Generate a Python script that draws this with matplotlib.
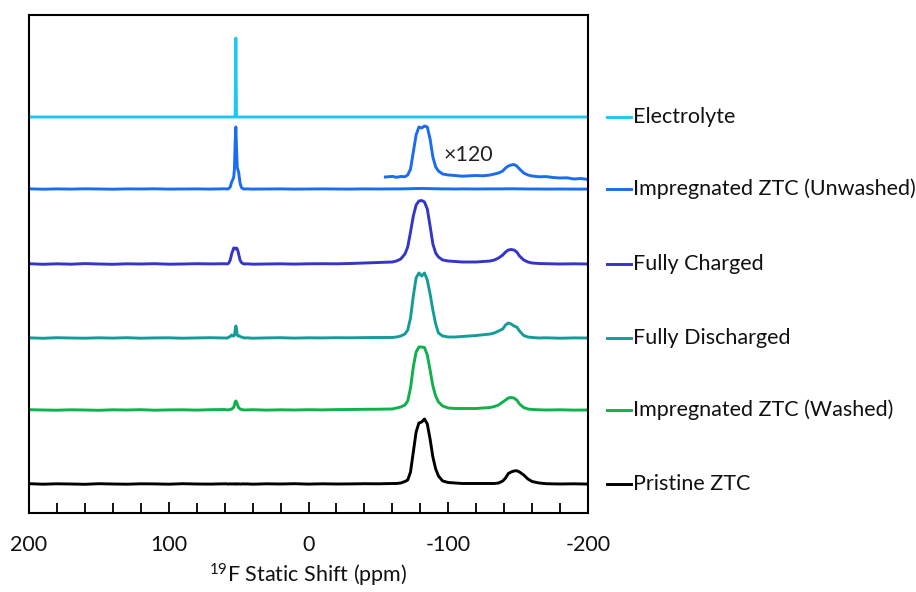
import matplotlib
matplotlib.use("Agg")
import matplotlib.pyplot as plt
import matplotlib.transforms as mtransforms
from matplotlib.ticker import MultipleLocator

plt.rcParams['font.family'] = ['Lato', 'DejaVu Sans']
plt.rcParams['mathtext.fontset'] = 'custom'
plt.rcParams['mathtext.rm'] = 'Lato'

# Chemical shift grid (ppm), dense around the resonances
ppm = [200, 190, 180, 170, 160, 150, 140, 130, 120, 110, 100, 90, 80, 70, 60,
       58, 57, 56, 55, 54, 53.5, 53, 52.5, 52, 51.5, 51, 50.5, 50, 49, 48, 47, 46,
       44, 40, 30, 20, 10, 0, -10, -20, -30, -40, -50, -60,
       -63, -66, -69, -71, -73, -75, -77, -79, -81, -83, -85, -87, -89, -91, -93, -96, -100,
       -105, -110, -120, -130,
       -133, -136, -139, -141, -143, -145, -147, -149, -151, -154, -157, -160,
       -165, -170, -180, -190, -200]

electrolyte = [0] * 15 + \
    [0, 0, 0, 0, 0, 0, 0, 0, 79, 0, 0, 0, 0, 0, 0, 0, 0] + \
    [0] * 12 + [0] * 17 + [0] * 4 + [0] * 12 + [0] * 5

unwashed = [0.2, -0.2, 0.1, -0.1, 0.2, 0, -0.2, 0.1, 0, 0.2, -0.1, 0, 0.1, -0.1, 0.2,
            0, 0.5, 2, 7, 10, 12, 20, 45, 62, 40, 22, 19, 17, 6, 1.5, 0.3, 0,
            0.1, -0.1, 0, 0.1, -0.1, 0, 0.1, 0, -0.1, 0.1, 0, 0.1,
            0.1, 0.1, 0.2, 0.2, 0.3, 0.4, 0.4, 0.5, 0.5, 0.5, 0.4, 0.4, 0.3, 0.2, 0.2, 0.1, 0.1,
            0, 0.1, 0, 0.1,
            0.1, 0.1, 0.1, 0.2, 0.2, 0.2, 0.2, 0.2, 0.1, 0.1, 0, 0,
            0, -0.1, 0, -0.1, -0.1]

# x120 vertical expansion of the unwashed spectrum
inset_ppm = [-55, -60, -63, -66, -69, -71, -73, -75, -77, -79, -81, -83, -85, -87, -89, -91,
             -93, -96, -100, -105, -110, -115, -120, -125, -130, -133, -136, -139, -141, -143,
             -145, -147, -149, -151, -154, -157, -160, -165, -170, -175, -180, -185, -190,
             -195, -200]
inset_unwashed = [0, 0.6, -0.3, 0.5, 0.3, 2, 8, 25, 42, 50, 49, 51, 50, 38, 20, 10,
                  6, 3, 2, 1.5, 0.8, 1.2, 1.5, 1.2, 2, 3, 4, 6, 9, 11,
                  12, 12.5, 11, 8, 4, 2, 1, 0.2, 0.4, -0.5, -1, -0.8, -2,
                  -1.5, -2.5]

charged = [0.3, -0.3, 0.2, -0.2, 0.4, 0, -0.3, 0.2, 0, 0.3, -0.2, 0, 0.3, 0.1, 0.3,
           0, 1, 4, 10, 14, 16, 16, 15, 15.5, 16, 15, 13, 10, 4, 1.5, 0.5, 0,
           0.2, -0.2, 0, 0.2, -0.1, 0.2, 0.3, 0.2, 0.5, 1, 1.5, 2,
           3, 5, 10, 17, 32, 48, 59, 63, 63.5, 62, 55, 38, 20, 11, 7, 4, 3,
           2.5, 2, 2, 3,
           4, 6, 9, 12, 14, 14.5, 14, 12, 8, 4, 2, 1,
           0.5, 0.3, 0, 0.2, 0]

discharged = [0.2, -0.3, 0.3, 0, -0.2, 0.2, -0.1, 0.3, -0.2, 0.1, 0.2, -0.2, 0.1, 0.3, 0,
              0, 1, 1.5, 3, 2, 2, 3, 8, 12, 9, 3, 2, 2.5, 1.5, 1, 0.5, 0,
              0.2, -0.2, 0.1, 0.3, -0.1, 0.2, 0.1, 0.3, 0.2, 0.4, 0.5, 0.5,
              1, 2, 4, 8, 20, 42, 60, 65, 62, 65, 58, 44, 28, 14, 5, 2, 1,
              1, 1.5, 2.5, 4,
              5, 7, 9, 13, 15, 14, 12, 11, 7, 2.5, 1, 0.5,
              0, 0.2, -0.2, 0.1, 0]

washed = [0.3, 0, -0.2, 0.2, 0, -0.3, 0.2, 0, 0.3, -0.2, 0.1, 0.2, -0.1, 0.3, 0.5,
          0, 0.3, 0.5, 1, 2, 3, 5, 8, 9, 8, 6, 4, 2.5, 1, 0.5, 0.3, 0,
          0.1, 0.3, -0.1, 0.2, 0, 0.3, 0.1, 0.4, 0.5, 0.7, 0.8, 1,
          2, 3, 5, 9, 22, 43, 58, 63, 63, 62.5, 55, 40, 24, 14, 8, 4, 2,
          1.5, 1.5, 1.5, 2.5,
          3.5, 5, 8, 10, 12, 12.5, 12, 10, 6, 2.5, 1, 0.5,
          0.2, 0, 0.2, -0.1, 0]

pristine = [0.3, -0.2, 0.2, 0, -0.3, 0.3, 0, -0.2, 0.2, 0.1, -0.2, 0.3, 0, -0.1, 0.2,
            0.1, -0.1, 0.2, 0, 0.1, 0, 0.2, 0, 0.1, -0.1, 0.2, 0, 0.1, 0, -0.1, 0.2, 0,
            0.1, -0.2, 0.2, 0, 0.3, -0.1, 0.2, 0, 0.1, 0.3, 0.2, 0.5,
            0.5, 1, 2.5, 4, 12, 32, 52, 61, 62, 65, 60, 45, 27, 15, 8, 3, 1.5,
            1, 0.5, 0.5, 0.5,
            0.5, 1, 3, 6, 10.5, 12, 13, 13.3, 12, 9, 5, 2.5,
            1, 0.3, 0, 0.2, -0.1]

labels = ["Electrolyte", "Impregnated ZTC (Unwashed)", "Fully Charged",
          "Fully Discharged", "Impregnated ZTC (Washed)", "Pristine ZTC"]
spectra = [electrolyte, unwashed, charged, discharged, washed, pristine]
colors = ["#1ec8f0", "#1a6cf0", "#3535c8", "#169c98", "#10b04c", "#000000"]
offsets = [396, 324, 249, 175, 103, 29]
inset_offset = 336

fig = plt.figure(figsize=(9.16, 5.92), dpi=100)
ax = fig.add_axes([29 / 916, 79 / 592, 559 / 916, 498 / 592])

for y, c, off in zip(spectra, colors, offsets):
    ax.plot(ppm, [v + off for v in y], color=c, lw=2.1, solid_joinstyle='round')

ax.plot(inset_ppm, [v + inset_offset for v in inset_unwashed], color=colors[1], lw=2.1,
        solid_joinstyle='round')
ax.text(-97, 358, "×120", fontsize=15.5, ha='left', va='center', color='#222222')

ax.set_xlim(200, -200)
ax.set_ylim(0, 498)
ax.set_yticks([])
ax.xaxis.set_major_locator(MultipleLocator(100))
ax.xaxis.set_minor_locator(MultipleLocator(20))
ax.tick_params(axis='x', which='both', direction='in', top=False, width=1.3,
               labelsize=15.5, pad=16, labelcolor='#111111')
ax.tick_params(axis='x', which='major', length=8)
ax.tick_params(axis='x', which='minor', length=7)
ax.set_xticks([200, 100, 0, -100, -200])
ax.set_xticklabels(["200", "100", "0", "-100", "-200"])
for s in ax.spines.values():
    s.set_linewidth(1.5)
ax.set_xlabel(r"$\mathregular{^{19}}$F Static Shift (ppm)", fontsize=15.5, labelpad=5,
              color='#111111')

# Legend entries placed beside each trace
trans = mtransforms.blended_transform_factory(fig.transFigure, ax.transData)
for lab, c, off in zip(labels, colors, offsets):
    ax.plot([607 / 916, 631 / 916], [off, off], color=c, lw=2.1, transform=trans,
            clip_on=False)
    ax.text(633 / 916, off, lab, transform=trans, fontsize=15.5, ha='left', va='center',
            color='#111111')

fig.savefig("out.png", dpi=100)
